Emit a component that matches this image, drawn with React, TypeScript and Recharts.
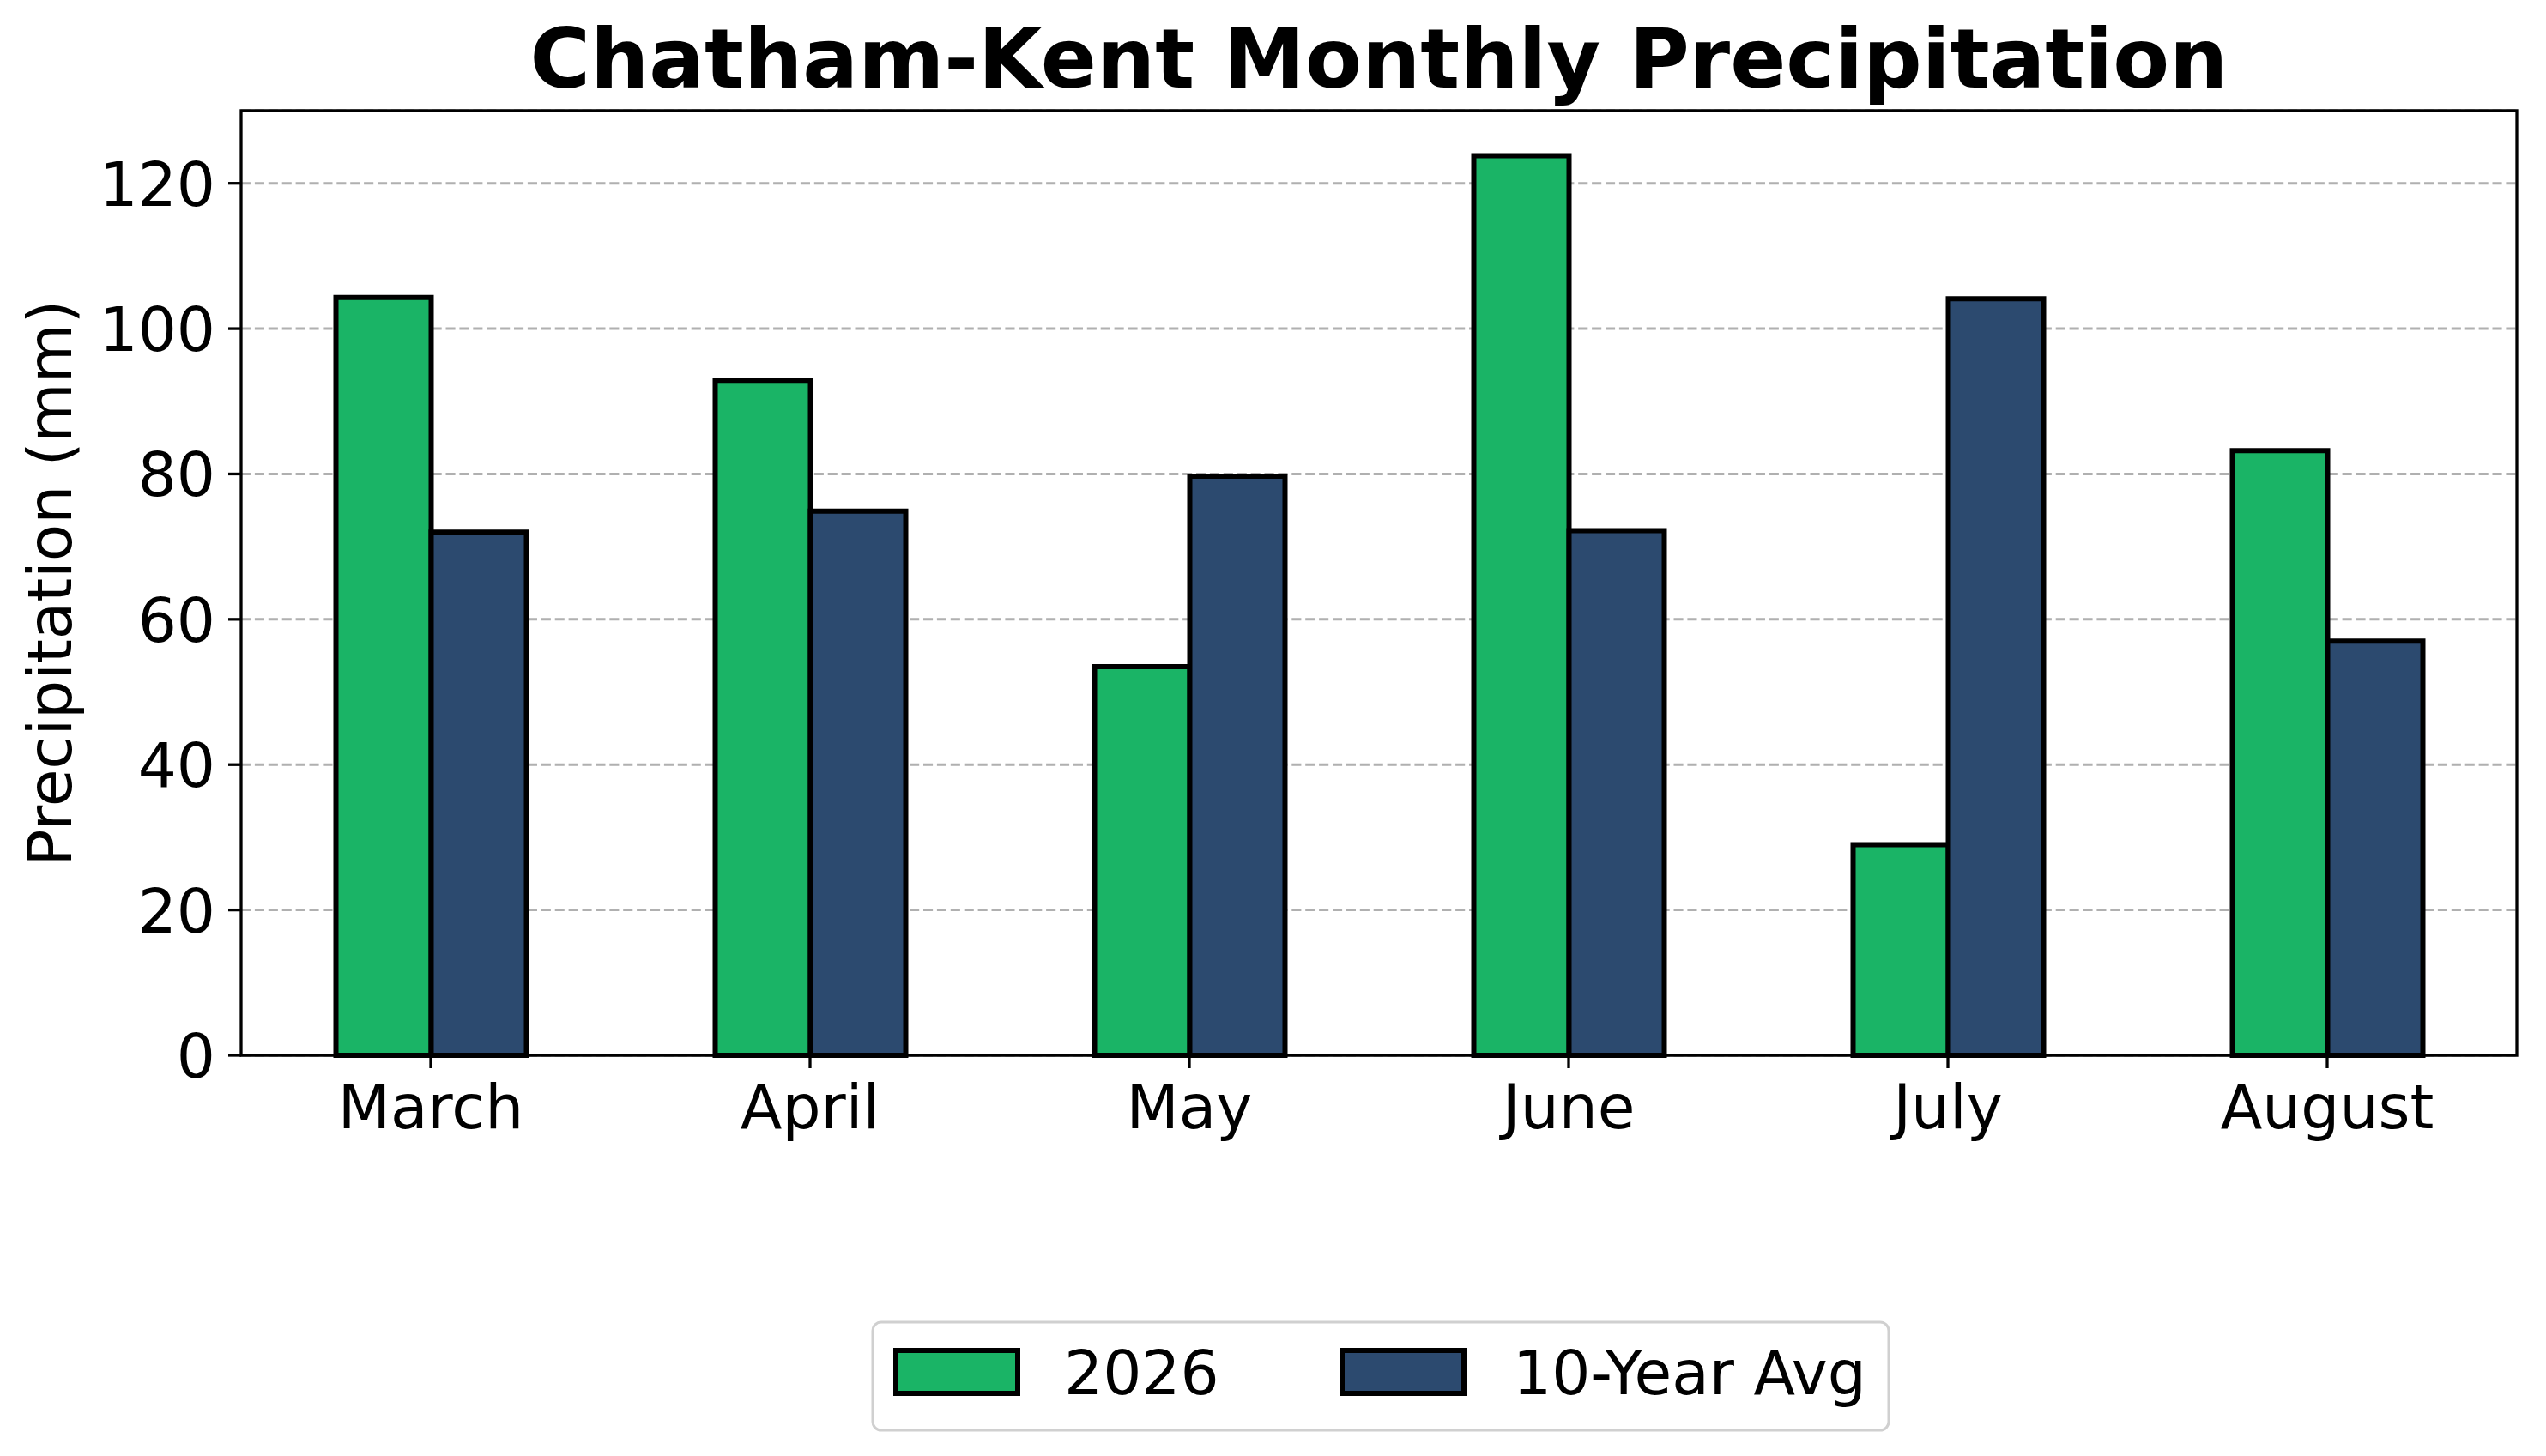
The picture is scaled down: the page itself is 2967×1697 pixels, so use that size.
import React from "react";
import { BarChart, Bar, XAxis, YAxis, CartesianGrid, ReferenceArea } from "recharts";

// values (mm)
const months = ["March", "April", "May", "June", "July", "August"];
const precip2026 = [104.3, 92.9, 53.5, 123.8, 29.0, 83.2];
const tenYearAvg = [72.0, 74.9, 79.7, 72.2, 104.1, 57.0];
const yTicks = [0, 20, 40, 60, 80, 100, 120];

const seriesNames = ["2026", "10-Year Avg"];
const seriesColors = ["#1ab466", "#2c4a6f"];

const data = months.map((month, i) => ({
  month,
  y2026: precip2026[i],
  avg10: tenYearAvg[i],
}));

const W = 2967;
const H = 1697;
const PLOT_LEFT = 281;
const PLOT_RIGHT = 2933;
const PLOT_TOP = 129;
const PLOT_BOTTOM = 1230;
const FONT = "'DejaVu Sans', sans-serif";
const FS = 71;

const YTick = ({ y, payload }: any) => (
  <text x={PLOT_LEFT - 30} y={y + 26} textAnchor="end" fontSize={FS} fontFamily={FONT} fill="#000">
    {payload.value}
  </text>
);

const XTick = ({ x, payload }: any) => (
  <text x={x} y={1315} textAnchor="middle" fontSize={FS} fontFamily={FONT} fill="#000">
    {payload.value}
  </text>
);

function Overlay() {
  const swatchX = [1044, 1564];
  const textX = [1240, 1763];
  return (
    <svg width={W} height={H} style={{ position: "absolute", left: 0, top: 0, pointerEvents: "none" }}>
      <text x={(PLOT_LEFT + PLOT_RIGHT) / 2} y={102} textAnchor="middle" fontSize={96} fontWeight="bold" fontFamily={FONT} fill="#000">
        Chatham-Kent Monthly Precipitation
      </text>
      <text
        x={83}
        y={(PLOT_TOP + PLOT_BOTTOM) / 2}
        transform={`rotate(-90, 83, ${(PLOT_TOP + PLOT_BOTTOM) / 2})`}
        textAnchor="middle"
        fontSize={FS}
        fontFamily={FONT}
        fill="#000"
      >
        Precipitation (mm)
      </text>
      <rect x={1017} y={1541} width={1184} height={126} rx={10} fill="#fff" stroke="#d0d0d0" strokeWidth={3} />
      {seriesNames.map((name, i) => (
        <g key={name}>
          <rect x={swatchX[i]} y={1574} width={142} height={50} fill={seriesColors[i]} stroke="#000" strokeWidth={6} />
          <text x={textX[i]} y={1625} fontSize={FS} fontFamily={FONT} fill="#000">
            {name}
          </text>
        </g>
      ))}
    </svg>
  );
}

export default function App() {
  return (
    <div style={{ position: "relative", width: W, height: H, background: "#fff" }}>
      <style>{`body { margin: 0; }`}</style>
      <BarChart
        width={W}
        height={H}
        data={data}
        margin={{ top: PLOT_TOP, right: W - PLOT_RIGHT, left: 0, bottom: 0 }}
        barCategoryGap="25%"
        barGap={0}
      >
        <CartesianGrid vertical={false} stroke="#b0b0b0" strokeWidth={3} strokeDasharray="11.1 4.8" />
        <XAxis
          dataKey="month"
          height={H - PLOT_BOTTOM}
          axisLine={false}
          tickSize={15}
          tickLine={{ stroke: "#000", strokeWidth: 3.3 }}
          tick={<XTick />}
          interval={0}
        />
        <YAxis
          width={PLOT_LEFT}
          domain={[0, 130]}
          ticks={yTicks}
          axisLine={false}
          tickSize={15}
          tickLine={{ stroke: "#000", strokeWidth: 3.3 }}
          tick={<YTick />}
          interval={0}
        />
        <Bar dataKey="y2026" name={seriesNames[0]} fill={seriesColors[0]} stroke="#000" strokeWidth={6} isAnimationActive={false} />
        <Bar dataKey="avg10" name={seriesNames[1]} fill={seriesColors[1]} stroke="#000" strokeWidth={6} isAnimationActive={false} />
        <ReferenceArea y1={0} y2={130} fill="none" stroke="#000" strokeWidth={3.3} fillOpacity={0} ifOverflow="visible" />
      </BarChart>
      <Overlay />
    </div>
  );
}
